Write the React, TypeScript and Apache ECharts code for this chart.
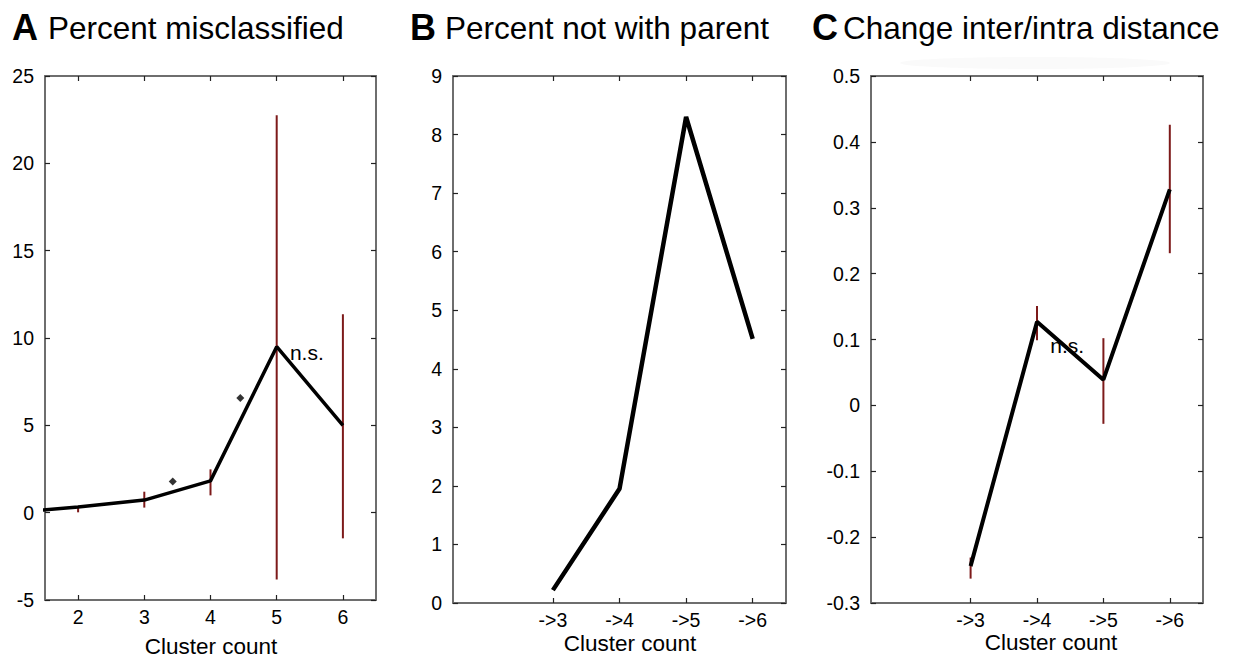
import React, { useEffect, useRef } from "react";
import * as echarts from "echarts";

// ---- data ----
const xTicksA = [2, 3, 4, 5, 6];
const xTicksBC = [3, 4, 5, 6];
const xLabelsBC = ["->3", "->4", "->5", "->6"];

const xA = [1, 2, 3, 4, 5, 6];
const valuesA = [0, 0.33, 0.72, 1.82, 9.5, 5.0];
const errXA = [2, 3, 4, 5, 6];
const errLowA = [0.02, 0.29, 0.99, -3.82, -1.47];
const errHighA = [0.39, 1.2, 2.48, 22.76, 11.36];
const sigXA = [3.43, 4.45];
const sigYA = [1.78, 6.56];
const nsA = [5.2, 9.17];

const xB = [3, 4, 5, 6];
const valuesB = [0.22, 1.95, 8.3, 4.51];

const xC = [3, 4, 5, 6];
const valuesC = [-0.244, 0.127, 0.039, 0.328];
const errLowC = [-0.263, 0.099, -0.028, 0.231];
const errHighC = [-0.231, 0.151, 0.102, 0.426];
const nsC = [4.2, 0.091];

const titles = [
  { letter: "A", text: "Percent misclassified" },
  { letter: "B", text: "Percent not with parent" },
  { letter: "C", text: "Change inter/intra distance" },
];
const xTitle = "Cluster count";
const nsText = "n.s.";

// ---- layout ----
const FONT = "'Liberation Sans', Arial, Helvetica, sans-serif";
const grids = [
  { left: 45, top: 76, width: 331, height: 524 },
  { left: 453, top: 76, width: 333, height: 527 },
  { left: 871, top: 76, width: 332, height: 527 },
];
const yRanges = [
  { min: -5, max: 25, interval: 5 },
  { min: 0, max: 9, interval: 1 },
  { min: -0.3, max: 0.5, interval: 0.1 },
];
const titlePos = [
  { lx: 12, tx: 48 },
  { lx: 410, tx: 445 },
  { lx: 812, tx: 843 },
];
const xTitlePos = [
  { x: 211, y: 646 },
  { x: 630, y: 643 },
  { x: 1051, y: 642 },
];

const FRAME = "#6e6e6e";
const TICK = "#222";
const ERR = "#7d1a1a";
const LABEL_SIZE = 19.5;

function makeXAxes(gi: number, ticks: number[], fmt?: (v: number) => string) {
  const base = {
    type: "value",
    gridIndex: gi,
    min: 1.5,
    max: 6.5,
    splitLine: { show: false },
    axisLine: { show: true, onZero: false, lineStyle: { color: FRAME, width: 2 } },
    axisTick: { show: true, inside: true, length: 5, customValues: ticks, lineStyle: { color: TICK, width: 1.2 } },
  };
  return [
    {
      ...base,
      position: "bottom",
      axisLabel: {
        show: true,
        customValues: ticks,
        formatter: fmt,
        fontSize: LABEL_SIZE,
        color: "#000",
        fontFamily: FONT,
        margin: 7,
      },
    },
    { ...base, position: "top", axisLabel: { show: false } },
  ];
}

function makeYAxes(gi: number) {
  const r = yRanges[gi];
  const base = {
    type: "value",
    gridIndex: gi,
    min: r.min,
    max: r.max,
    interval: r.interval,
    splitLine: { show: false },
    axisLine: { show: true, onZero: false, lineStyle: { color: FRAME, width: 2 } },
    axisTick: { show: true, inside: true, length: 5, lineStyle: { color: TICK, width: 1.2 } },
  };
  return [
    {
      ...base,
      position: "left",
      axisLabel: { show: true, fontSize: LABEL_SIZE, color: "#000", fontFamily: FONT, margin: 11 },
    },
    { ...base, position: "right", axisLabel: { show: false } },
  ];
}

function errSeries(xi: number, yi: number, xs: number[], lo: number[], hi: number[]) {
  return {
    type: "custom",
    xAxisIndex: xi,
    yAxisIndex: yi,
    z: 2,
    data: xs.map((x, i) => [x, lo[i], hi[i]]),
    encode: { x: 0, y: [1, 2] },
    renderItem: (params: any, api: any) => {
      const p1 = api.coord([api.value(0), api.value(1)]);
      const p2 = api.coord([api.value(0), api.value(2)]);
      return {
        type: "line",
        shape: { x1: p1[0], y1: p1[1], x2: p2[0], y2: p2[1] },
        style: { stroke: ERR, lineWidth: 2 },
      };
    },
  };
}

function lineSeries(xi: number, yi: number, xs: number[], ys: number[], w: number) {
  return {
    type: "line",
    xAxisIndex: xi,
    yAxisIndex: yi,
    z: 3,
    symbol: "none",
    clip: true,
    data: xs.map((x, i) => [x, ys[i]]),
    lineStyle: { color: "#000", width: w },
  };
}

function nsSeries(xi: number, yi: number, pt: number[]) {
  return {
    type: "custom",
    xAxisIndex: xi,
    yAxisIndex: yi,
    z: 1,
    data: [pt],
    renderItem: (params: any, api: any) => {
      const p = api.coord([api.value(0), api.value(1)]);
      return {
        type: "text",
        x: p[0],
        y: p[1],
        style: {
          text: nsText,
          font: `21px ${FONT}`,
          fill: "#000",
          align: "left",
          verticalAlign: "middle",
        },
      };
    },
  };
}

export default function App() {
  const ref = useRef<HTMLDivElement>(null);

  useEffect(() => {
    if (!ref.current) return;
    const chart = echarts.init(ref.current, undefined, { renderer: "svg" });

    const xAxis = [
      ...makeXAxes(0, xTicksA, (v: number) => String(v)),
      ...makeXAxes(1, xTicksBC, (v: number) => xLabelsBC[xTicksBC.indexOf(v)] ?? ""),
      ...makeXAxes(2, xTicksBC, (v: number) => xLabelsBC[xTicksBC.indexOf(v)] ?? ""),
    ];
    const yAxis = [...makeYAxes(0), ...makeYAxes(1), ...makeYAxes(2)];

    const graphic: any[] = [
      {
        type: "ellipse",
        shape: { cx: 1035, cy: 63, rx: 135, ry: 6 },
        style: { fill: "#fafafa" },
        z: -1,
      },
    ];
    titles.forEach((t, i) => {
      graphic.push({
        type: "text",
        x: titlePos[i].lx,
        y: 27,
        style: {
          text: t.letter,
          font: `bold 36px ${FONT}`,
          fill: "#000",
          verticalAlign: "middle",
          align: "left",
        },
      });
      graphic.push({
        type: "text",
        x: titlePos[i].tx,
        y: 27.5,
        style: {
          text: t.text,
          font: `31.5px ${FONT}`,
          fill: "#000",
          verticalAlign: "middle",
          align: "left",
        },
      });
      graphic.push({
        type: "text",
        x: xTitlePos[i].x,
        y: xTitlePos[i].y,
        style: {
          text: xTitle,
          font: `22.5px ${FONT}`,
          fill: "#000",
          verticalAlign: "middle",
          align: "center",
        },
      });
    });

    const option: any = {
      animation: false,
      backgroundColor: "#fff",
      grid: grids.map((g) => ({ ...g, containLabel: false })),
      xAxis,
      yAxis,
      graphic,
      series: [
        // Panel A
        errSeries(0, 0, errXA, errLowA, errHighA),
        lineSeries(0, 0, xA, valuesA, 3.5),
        {
          type: "scatter",
          xAxisIndex: 0,
          yAxisIndex: 0,
          z: 4,
          symbol: "diamond",
          symbolSize: 8,
          itemStyle: { color: "#000" },
          data: sigXA.map((x, i) => [x, sigYA[i]]),
        },
        nsSeries(0, 0, nsA),
        // Panel B
        lineSeries(2, 2, xB, valuesB, 4.5),
        // Panel C
        nsSeries(4, 4, nsC),
        errSeries(4, 4, xC, errLowC, errHighC),
        lineSeries(4, 4, xC, valuesC, 4),
      ],
    };
    chart.setOption(option);
    return () => chart.dispose();
  }, []);

  return (
    <div
      ref={ref}
      style={{ position: "fixed", left: 0, top: 0, width: 1236, height: 660, background: "#fff" }}
    />
  );
}
